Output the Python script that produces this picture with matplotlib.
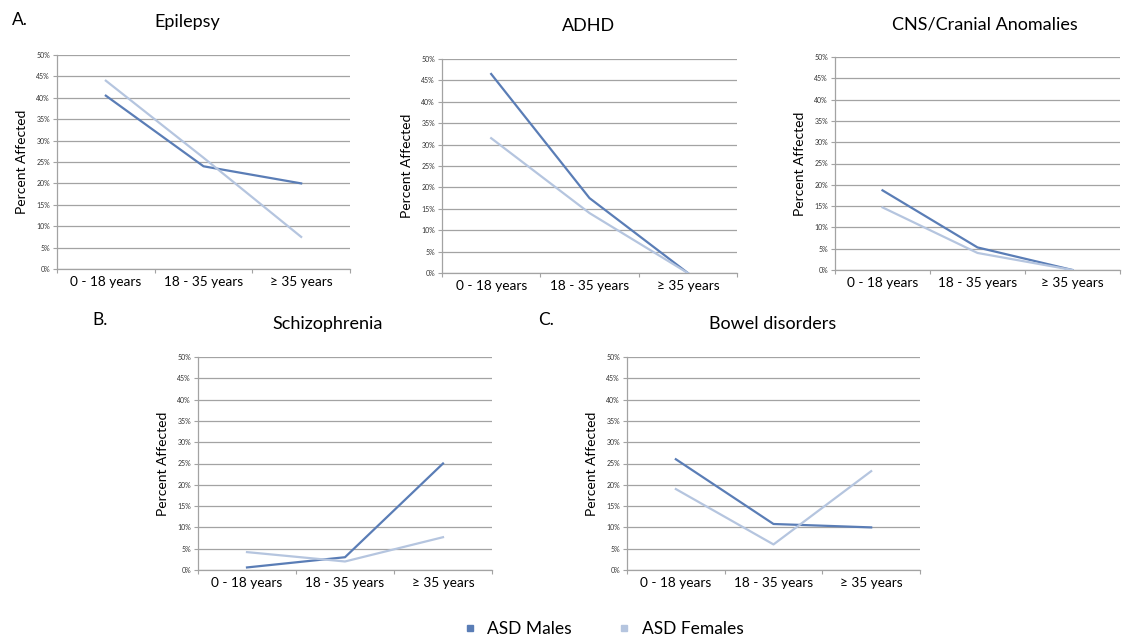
import matplotlib
matplotlib.use('Agg')
import matplotlib.pyplot as plt
from matplotlib.lines import Line2D
import numpy as np

plt.rcParams['font.family'] = ['Lato', 'DejaVu Sans']

# Data (percent affected)
age_groups = ['0 - 18 years', '18 - 35 years', '\u2265 35 years']
y_ticks = [0, 5, 10, 15, 20, 25, 30, 35, 40, 45, 50]

epilepsy_males = [40.5, 24.0, 20.0]
epilepsy_females = [44.0, 26.0, 7.5]
adhd_males = [46.5, 17.5, 0.0]
adhd_females = [31.5, 14.0, 0.0]
cns_males = [18.7, 5.3, 0.0]
cns_females = [14.7, 4.0, 0.0]
schizo_males = [0.6, 3.0, 25.0]
schizo_females = [4.2, 2.0, 7.7]
bowel_males = [26.0, 10.8, 10.0]
bowel_females = [19.0, 6.0, 23.2]

MALE_COLOR = '#5A7DB6'
FEMALE_COLOR = '#B5C5DF'
GRID_COLOR = '#A3A3A3'

W, H = 1122, 640
fig = plt.figure(figsize=(W / 100, H / 100), dpi=100)


def px_axes(x0, y0, x1, y1):
    # pixel box (top-left origin) -> figure fraction
    return fig.add_axes([x0 / W, 1 - y1 / H, (x1 - x0) / W, (y1 - y0) / H])


def panel(box, title, title_x, males, females):
    ax = px_axes(*box)
    x = np.arange(len(age_groups)) + 0.5
    ax.plot(x, males, color=MALE_COLOR, lw=1.6, zorder=3)
    ax.plot(x, females, color=FEMALE_COLOR, lw=1.6, zorder=3)
    ax.set_xlim(0, len(age_groups))
    ax.set_ylim(0, 50)
    ax.set_yticks(y_ticks)
    ax.set_yticklabels([f'{t}%' for t in y_ticks], fontsize=5, color='#333333')
    ax.set_xticks(np.arange(len(age_groups) + 1))
    ax.set_xticklabels([])
    ax.set_xticks(x, minor=True)
    ax.set_xticklabels(age_groups, minor=True, fontsize=9.8)
    ax.tick_params(axis='x', which='major', length=3, color=GRID_COLOR, direction='out')
    ax.tick_params(axis='x', which='minor', length=0, pad=5)
    ax.tick_params(axis='y', length=3, color=GRID_COLOR, pad=2)
    ax.grid(axis='y', color=GRID_COLOR, lw=0.9)
    ax.set_axisbelow(True)
    for s in ['top', 'right']:
        ax.spines[s].set_visible(False)
    for s in ['left', 'bottom']:
        ax.spines[s].set_color(GRID_COLOR)
        ax.spines[s].set_linewidth(0.9)
    ax.set_ylabel('Percent Affected', fontsize=10, labelpad=6)
    fig.text(title_x / W, 1 - (box[1] - 33) / H, title, fontsize=13,
             ha='center', va='center')
    return ax


panel((57, 55, 350, 269), 'Epilepsy', 187, epilepsy_males, epilepsy_females)
panel((442, 59, 737, 273), 'ADHD', 588, adhd_males, adhd_females)
panel((835, 57, 1120, 270), 'CNS/Cranial Anomalies', 985, cns_males, cns_females)
panel((198, 357, 492, 570), 'Schizophrenia', 328, schizo_males, schizo_females)
panel((627, 357, 920, 570), 'Bowel disorders', 773, bowel_males, bowel_females)

fig.text(12 / W, 1 - 20 / H, 'A.', fontsize=12.5, va='center')
fig.text(92 / W, 1 - 320 / H, 'B.', fontsize=12.5, va='center')
fig.text(538 / W, 1 - 320 / H, 'C.', fontsize=12.5, va='center')

handles = [Line2D([], [], ls='none', marker='s', ms=5, color=MALE_COLOR),
           Line2D([], [], ls='none', marker='s', ms=5, color=FEMALE_COLOR)]
fig.legend(handles, ['ASD Males', 'ASD Females'], loc='center',
           bbox_to_anchor=(598 / W, 1 - 629 / H), ncol=2, frameon=False,
           fontsize=12.5, handletextpad=0.0, columnspacing=2.0)

fig.savefig('out.png', dpi=100)
